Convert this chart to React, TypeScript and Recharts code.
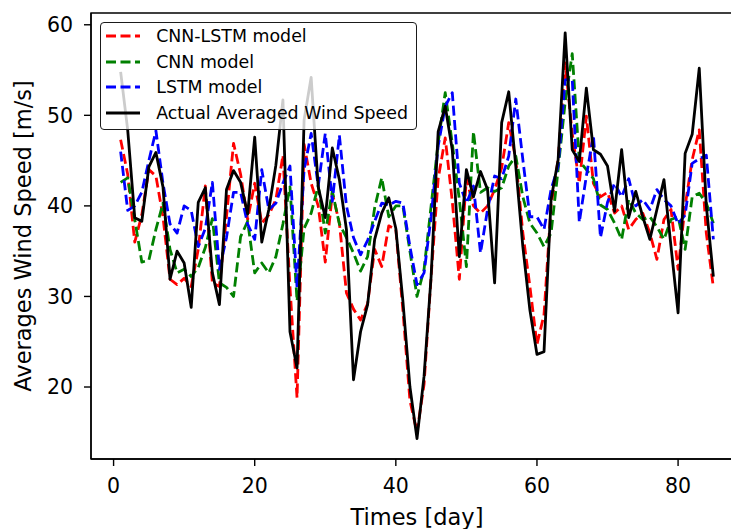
import { LineChart, Line, XAxis, YAxis, Legend, ReferenceArea } from 'recharts';

const days = Array.from({ length: 85 }, (_, i) => i + 1);

const actual = [
  54.8, 48.4, 38.7, 38.3, 44.3, 45.9, 42.1, 31.9, 35.0, 33.7,
  28.8, 40.4, 42.0, 32.6, 29.1, 41.8, 43.9, 42.6, 39.1, 47.6,
  36.0, 39.6, 44.5, 51.7, 26.1, 22.1, 49.5, 54.2, 42.1, 38.7,
  46.4, 42.9, 37.4, 20.8, 26.1, 29.1, 36.3, 39.2, 40.9, 37.5,
  29.5, 20.0, 14.3, 21.2, 32.2, 48.2, 51.0, 46.2, 34.4, 44.0,
  41.0, 43.8, 41.8, 31.5, 49.2, 52.6, 44.4, 35.5, 28.5, 23.6,
  23.9, 40.7, 45.1, 59.1, 46.2, 44.9, 53.0, 46.2, 45.7, 44.4,
  39.4, 46.2, 38.7, 41.6, 38.8, 36.3, 39.6, 42.9, 35.5, 28.2,
  45.8, 47.9, 55.2, 40.0, 32.2,
];

const cnnLstm = [
  47.3, 43.5, 36.0, 39.0, 44.0, 43.3, 38.8, 31.9, 31.3, 32.0,
  31.1, 35.2, 42.2, 31.5, 31.1, 38.8, 46.9, 43.5, 38.5, 42.5,
  38.1, 39.0, 40.7, 45.6, 31.0, 18.8, 46.8, 42.5, 40.0, 33.8,
  41.4, 38.1, 30.4, 28.6, 27.4, 29.2, 35.2, 33.3, 37.8, 37.4,
  28.5, 18.5, 15.0, 20.3, 32.2, 43.0, 47.5, 40.5, 31.9, 43.0,
  40.0, 39.2, 40.0, 41.8, 44.2, 49.2, 45.1, 37.0, 31.1, 24.7,
  28.0, 40.0, 45.1, 55.8, 48.0, 42.5, 49.9, 42.5, 41.0, 41.5,
  39.2, 40.0, 37.4, 38.5, 39.2, 37.0, 34.1, 38.5, 39.6, 33.0,
  40.0, 45.1, 48.4, 37.0, 31.0,
];

const cnn = [
  42.6, 43.1, 38.5, 33.8, 34.0, 37.4, 40.3, 35.2, 32.6, 33.0,
  32.2, 33.2, 35.4, 38.6, 31.5, 31.0, 30.0, 36.6, 38.3, 32.6,
  33.7, 32.6, 34.4, 38.0, 42.1, 29.5, 37.5, 39.2, 42.2, 37.0,
  41.6, 38.0, 36.5, 34.8, 32.8, 34.4, 39.8, 43.1, 38.8, 40.0,
  40.0, 35.0, 30.0, 33.0, 40.0, 47.0, 52.5, 46.9, 40.7, 33.3,
  48.2, 41.5, 42.0, 41.6, 42.0, 44.4, 45.5, 41.0, 38.1, 37.0,
  35.5, 37.0, 44.0, 51.5, 56.8, 45.0, 44.0, 43.0, 40.1, 39.6,
  38.1, 36.3, 40.7, 39.2, 38.5, 38.8, 37.7, 36.3, 38.5, 38.8,
  35.2, 41.0, 41.4, 40.3, 38.1,
];

const lstm = [
  46.0, 39.5, 40.0, 41.5, 45.0, 48.3, 42.5, 38.0, 37.0, 40.0,
  39.5, 35.5, 37.5, 42.6, 33.0, 36.5, 41.5, 41.5, 38.0, 36.3,
  44.0, 39.6, 40.3, 42.5, 44.4, 31.0, 44.0, 48.0, 42.2, 48.0,
  40.5, 47.8, 40.0, 36.5, 34.6, 36.2, 38.3, 40.3, 40.1, 40.5,
  40.3, 35.5, 31.3, 32.6, 38.8, 46.6, 51.0, 52.5, 42.5, 40.3,
  42.2, 34.8, 39.6, 43.3, 43.0, 45.5, 51.8, 45.1, 38.8, 38.8,
  37.4, 41.8, 44.4, 53.9, 54.0, 38.2, 43.3, 47.8, 36.5, 40.4,
  42.5, 41.0, 43.0, 40.0, 40.7, 39.6, 41.8, 40.7, 40.0, 38.0,
  39.0, 44.7, 45.2, 45.6, 36.3,
];

const xTicks = [0, 20, 40, 60, 80];
const yTicks = [20, 30, 40, 50, 60];

const series = [
  { key: 'cnnLstm', name: 'CNN-LSTM model', color: '#ff0000', dash: '10 4.5' },
  { key: 'cnn', name: 'CNN model', color: '#008000', dash: '10 4.5' },
  { key: 'lstm', name: 'LSTM model', color: '#0000ff', dash: '10 4.5' },
  { key: 'actual', name: 'Actual Averaged Wind Speed', color: '#000000', dash: undefined },
];

const data = days.map((d, i) => ({
  day: d,
  actual: actual[i],
  cnnLstm: cnnLstm[i],
  cnn: cnn[i],
  lstm: lstm[i],
}));

const X_DOMAIN: [number, number] = [-3.2, 89.2];
const Y_DOMAIN: [number, number] = [12.05, 61.3];

function LegendBox() {
  return (
    <div
      style={{
        boxSizing: 'border-box',
        width: 317,
        height: 108,
        border: '1.5px solid #1a1a1a',
        borderRadius: 4,
        background: 'rgba(255,255,255,0.8)',
        paddingTop: 1,
      }}
    >
      {series.map(s => (
        <div key={s.key} style={{ display: 'flex', alignItems: 'center', height: 25.5 }}>
          <svg width={34} height={6} style={{ marginLeft: 5.2, overflow: 'visible' }}>
            <line x1={0} y1={3} x2={34} y2={3} stroke={s.color} strokeWidth={2.8} strokeDasharray={s.dash} />
          </svg>
          <span style={{ marginLeft: 16, fontSize: 17.4, lineHeight: '20px', color: '#000', whiteSpace: 'nowrap' }}>
            {s.name}
          </span>
        </div>
      ))}
    </div>
  );
}

const tickStyle = { fontSize: 20.5, fill: '#000', fontFamily: 'DejaVu Sans' };

export default function App() {
  return (
    <div
      style={{
        position: 'absolute',
        left: 8,
        top: 8,
        width: 723,
        height: 521,
        overflow: 'hidden',
        fontFamily: 'DejaVu Sans',
        background: '#fff',
      }}
    >
      <LineChart width={740} height={521} data={data} margin={{ top: 5, right: 5, left: 0, bottom: 0 }}>
        <XAxis
          dataKey="day"
          type="number"
          domain={X_DOMAIN}
          ticks={xTicks}
          allowDataOverflow
          height={70}
          tick={tickStyle}
          tickSize={7}
          tickMargin={12}
          stroke="#000"
          strokeWidth={1.4}
          label={{
            content: ({ viewBox }: any) => (
              <text
                x={viewBox.x + viewBox.width / 2}
                y={viewBox.y + 66}
                textAnchor="middle"
                fontSize={22.5}
                fontFamily="DejaVu Sans"
                fill="#000"
              >
                Times [day]
              </text>
            ),
          }}
        />
        <YAxis
          type="number"
          domain={Y_DOMAIN}
          ticks={yTicks}
          allowDataOverflow
          width={83}
          tick={tickStyle}
          tickSize={7}
          tickMargin={11}
          stroke="#000"
          strokeWidth={1.4}
          label={{
            content: ({ viewBox }: any) => {
              const cx = 15;
              const cy = viewBox.y + viewBox.height / 2;
              return (
                <text
                  x={cx}
                  y={cy}
                  transform={`rotate(-90 ${cx} ${cy})`}
                  textAnchor="middle"
                  dominantBaseline="central"
                  fontSize={22.5}
                  fontFamily="DejaVu Sans"
                  fill="#000"
                >
                  Averages Wind Speed [m/s]
                </text>
              );
            },
          }}
        />
        <ReferenceArea
          x1={X_DOMAIN[0]}
          x2={X_DOMAIN[1]}
          y1={Y_DOMAIN[0]}
          y2={Y_DOMAIN[1]}
          fill="none"
          stroke="#000"
          strokeWidth={1.4}
          ifOverflow="visible"
        />
        {series.map(s => (
          <Line
            key={s.key}
            dataKey={s.key}
            name={s.name}
            type="linear"
            stroke={s.color}
            strokeWidth={2.8}
            strokeDasharray={s.dash}
            strokeLinejoin="round"
            dot={false}
            activeDot={false}
            isAnimationActive={false}
          />
        ))}
        <Legend
          layout="vertical"
          align="center"
          verticalAlign="middle"
          wrapperStyle={{ left: 92, top: 13.5, width: 317 }}
          content={() => <LegendBox />}
        />
      </LineChart>
    </div>
  );
}
